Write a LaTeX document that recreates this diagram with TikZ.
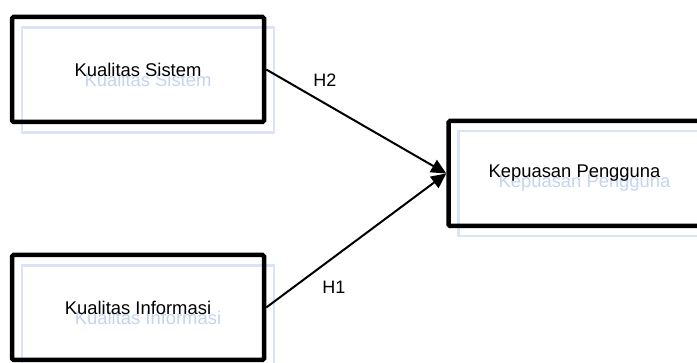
\documentclass[tikz,border=0pt]{standalone}
\usepackage{fontspec}
\setmainfont{Liberation Sans}
\usetikzlibrary{arrows.meta}
\definecolor{ghostline}{RGB}{218,228,244}
\definecolor{ghosttext}{RGB}{196,212,238}
\begin{document}
\begin{tikzpicture}[x=1pt,y=-1pt,
  varbox/.style={draw=black,line width=4.5pt,rounded corners=1.5pt,
    minimum width=252pt,minimum height=105pt,inner sep=0pt,
    font=\fontsize{18.4}{22}\selectfont},
  ghostbox/.style={draw=ghostline,line width=2.5pt,
    minimum width=252pt,minimum height=105pt,inner sep=0pt,
    text=ghosttext,font=\fontsize{18.4}{22}\selectfont},
  path/.style={line width=2pt,-{Triangle[length=15pt,width=14pt]}},
  hyp/.style={font=\fontsize{18}{22}\selectfont}]
\useasboundingbox (0,0) rectangle (697,363);
% shadow copies of the variable boxes
\node[ghostbox] (ksg) at (148,80) {Kualitas Sistem};
\node[ghostbox] (kig) at (148,318) {Kualitas Informasi};
\node[ghostbox] (kpg) at (584.5,183.5) {Kepuasan Pengguna};
% variable boxes
\node[varbox] (ks) at (138,69.5) {Kualitas Sistem};
\node[varbox] (ki) at (138,307.5) {Kualitas Informasi};
\node[varbox] (kp) at (574.5,173.5) {Kepuasan Pengguna};
% hypothesised paths
\draw[path] (ks.east) -- (kp.west);
\draw[path] (ki.east) -- (kp.west);
\node[hyp] (h2) at (325,80) {H2};
\node[hyp] (h1) at (334,287) {H1};
\end{tikzpicture}
\end{document}
